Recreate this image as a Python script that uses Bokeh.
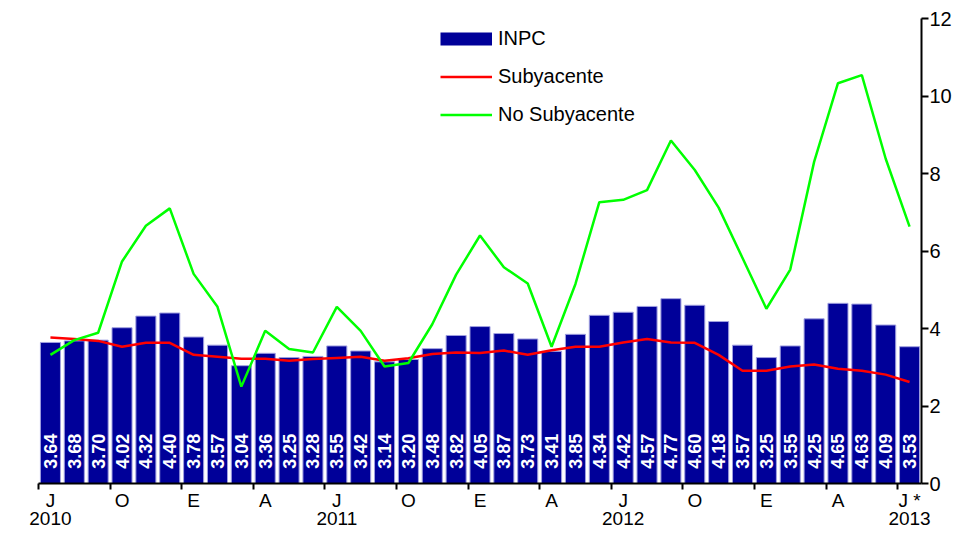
import math
from bokeh.plotting import figure
from bokeh.models import (ColumnDataSource, Range1d, FixedTicker,
                          Legend, LegendItem)
from bokeh.core.properties import value
from bokeh.embed import file_html
from bokeh.resources import INLINE

# ---------------- data ----------------
month_labels = ["J", "O", "E", "A", "J", "O", "E", "A", "J", "O", "E", "A", "J *"]
year_labels = {0: "2010", 12: "2011", 24: "2012", 36: "2013"}

inpc = [3.64, 3.68, 3.70, 4.02, 4.32, 4.40, 3.78, 3.57, 3.04, 3.36, 3.25, 3.28,
        3.55, 3.42, 3.14, 3.20, 3.48, 3.82, 4.05, 3.87, 3.73, 3.41, 3.85, 4.34,
        4.42, 4.57, 4.77, 4.60, 4.18, 3.57, 3.25, 3.55, 4.25, 4.65, 4.63, 4.09,
        3.53]
subyacente = [3.77, 3.73, 3.68, 3.53, 3.63, 3.63, 3.32, 3.27, 3.22, 3.22, 3.17, 3.21,
              3.24, 3.27, 3.17, 3.23, 3.34, 3.38, 3.37, 3.43, 3.32, 3.44, 3.53, 3.53,
              3.64, 3.73, 3.64, 3.63, 3.32, 2.91, 2.91, 3.02, 3.07, 2.96, 2.91, 2.81,
              2.62]
no_subyacente = [3.32, 3.70, 3.89, 5.73, 6.65, 7.10, 5.41, 4.56, 2.50, 3.94, 3.47, 3.38,
                 4.56, 3.94, 3.02, 3.11, 4.11, 5.39, 6.40, 5.58, 5.16, 3.53, 5.15, 7.26,
                 7.32, 7.57, 8.85, 8.09, 7.12, 5.82, 4.51, 5.52, 8.30, 10.33, 10.54, 8.38,
                 6.63]

n = len(inpc)
idx = list(range(n))
src = ColumnDataSource(dict(
    x=idx, inpc=inpc, sub=subyacente, nosub=no_subyacente,
    lbl=[f"{v:.2f}" for v in inpc],
))

FONT = "Liberation Sans"

p = figure(width=954, height=531,
           x_range=Range1d(-0.5, n - 0.5), y_range=Range1d(0, 12),
           output_backend="svg", toolbar_location=None,
           y_axis_location="right",
           min_border_left=38, min_border_right=31,
           min_border_top=18, min_border_bottom=47)
p.outline_line_color = None
p.grid.visible = False
p.background_fill_color = "white"
p.border_fill_color = "white"

# bars
p.vbar(x="x", top="inpc", width=0.84, source=src,
       fill_color="#000099", line_color="#a0a0e0", line_width=1)

# value labels inside bars
p.text(x="x", y=0.38, text="lbl", source=src, angle=math.pi / 2,
       text_align="left", text_baseline="middle", text_color="white",
       text_font=value(FONT), text_font_style="bold", text_font_size="18px")

# lines
r_sub = p.line(x="x", y="sub", source=src, line_color="#ff0000", line_width=2.5)
r_nosub = p.line(x="x", y="nosub", source=src, line_color="#00ff00", line_width=2.5)
proxy = p.line(x=[0], y=[float("nan")], line_color="#000099", line_width=13,
               line_cap="butt")

# x axis: labels at every third month, boundary ticks as minor ticks
xa = p.xaxis[0]
label_pos = list(range(0, n, 3))
xa.ticker = FixedTicker(ticks=label_pos,
                        minor_ticks=[k - 0.5 for k in label_pos])
overrides = {}
for k, m in zip(label_pos, month_labels):
    overrides[k] = m + ("\n" + year_labels[k] if k in year_labels else "\n ")
xa.major_label_overrides = overrides
xa.major_tick_out = 0
xa.major_tick_in = 0
xa.minor_tick_out = 6
xa.minor_tick_in = 0
xa.minor_tick_line_width = 2
xa.minor_tick_line_color = "black"
xa.axis_line_width = 2
xa.axis_line_color = "black"
xa.major_label_standoff = 0
xa.major_label_text_font = FONT
xa.major_label_text_font_size = "19px"
xa.major_label_text_line_height = 0.88
xa.major_label_text_color = "black"

# y axis (right)
ya = p.yaxis[0]
ya.ticker = FixedTicker(ticks=[0, 2, 4, 6, 8, 10, 12])
ya.major_tick_out = 7
ya.major_tick_in = 0
ya.major_tick_line_width = 2
ya.minor_tick_line_color = None
ya.axis_line_width = 2
ya.axis_line_color = "black"
ya.major_tick_line_color = "black"
ya.major_label_text_font = FONT
ya.major_label_text_font_size = "20px"
ya.major_label_text_color = "black"
ya.major_label_standoff = 1

legend = Legend(items=[
    LegendItem(label="INPC", renderers=[proxy]),
    LegendItem(label="Subyacente", renderers=[r_sub]),
    LegendItem(label="No Subyacente", renderers=[r_nosub]),
], location=(402, 357), glyph_width=52, glyph_height=23, label_height=23,
    spacing=15, padding=0, margin=0, label_standoff=6,
    border_line_alpha=0, background_fill_alpha=0,
    label_text_font=FONT, label_text_font_size="20px", label_text_color="black")
p.add_layout(legend, "center")

open("out.html", "w").write(file_html(p, INLINE))
